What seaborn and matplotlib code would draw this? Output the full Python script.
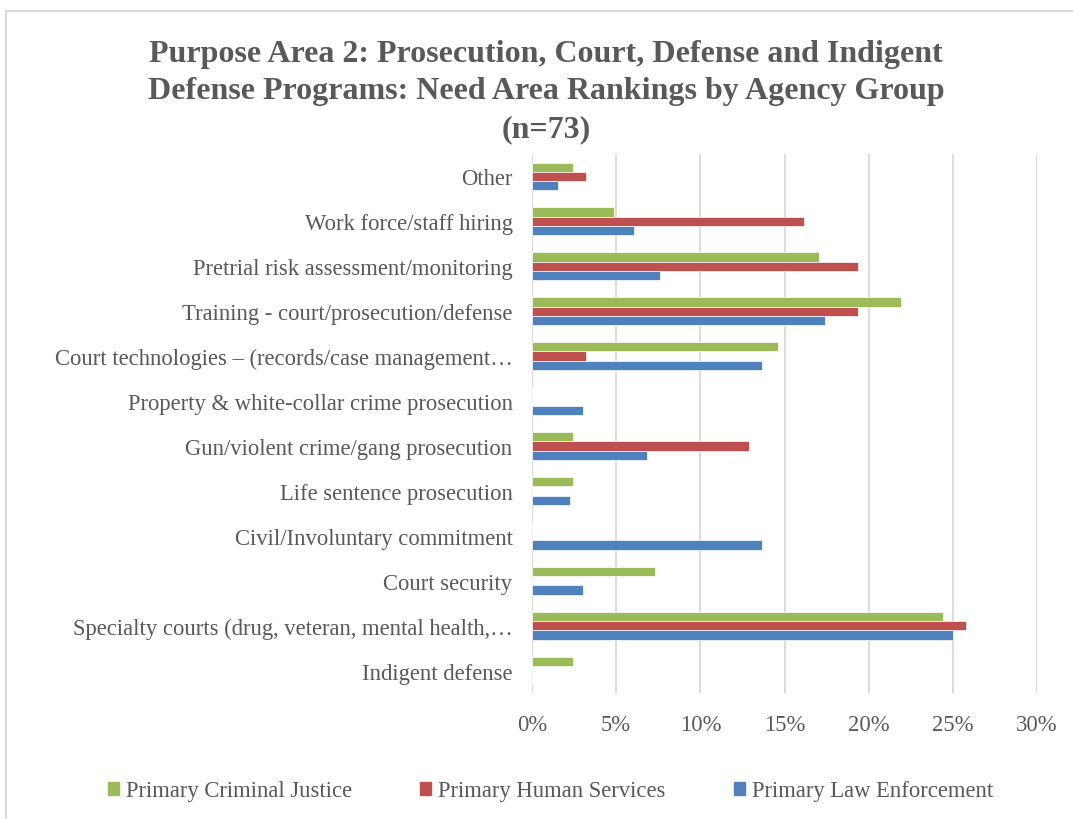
import numpy as np
import pandas as pd
import matplotlib
matplotlib.use('Agg')
import matplotlib.pyplot as plt
import seaborn as sns
from matplotlib.ticker import PercentFormatter
from matplotlib.patches import Rectangle

# ── datos ────────────────────────────────────────────────────────────────────
categorias = [
    'Other',
    'Work force/staff hiring',
    'Pretrial risk assessment/monitoring',
    'Training - court/prosecution/defense',
    'Court technologies – (records/case management…',
    'Property & white-collar crime prosecution',
    'Gun/violent crime/gang prosecution',
    'Life sentence prosecution',
    'Civil/Involuntary commitment',
    'Court security',
    'Specialty courts (drug, veteran, mental health,…',
    'Indigent defense',
]
grupos = ['Primary Criminal Justice', 'Primary Human Services', 'Primary Law Enforcement']
criminal_justice = [2.44, 4.88, 17.07, 21.95, 14.63, 0.0, 2.44, 2.44, 0.0, 7.32, 24.39, 2.44]
human_services   = [3.23, 16.13, 19.35, 19.35, 3.23, 0.0, 12.90, 0.0, 0.0, 0.0, 25.81, 0.0]
law_enforcement  = [1.52, 6.06, 7.58, 17.42, 13.64, 3.03, 6.82, 2.27, 13.64, 3.03, 25.00, 0.0]

df = pd.DataFrame({
    'area': categorias * 3,
    'grupo': np.repeat(grupos, len(categorias)),
    'pct': criminal_justice + human_services + law_enforcement,
})

# ── estilo ───────────────────────────────────────────────────────────────────
VERDE = '#9BBB59'; ROJO = '#C0504D'; AZUL = '#4F81BD'
TEXTO = '#595959'; GRID = '#D9D9D9'
sns.set_style('white')
plt.rcParams['font.family'] = ['Liberation Serif', 'DejaVu Serif']

fig = plt.figure(figsize=(10.73, 8.2), dpi=100)
ax = fig.add_axes([532/1073, 1 - 694/820, 505/1073, 539/820])

sns.barplot(data=df, y='area', x='pct', hue='grupo', order=categorias,
            hue_order=grupos, palette=[VERDE, ROJO, AZUL], saturation=1,
            orient='h', width=0.62, edgecolor='white', linewidth=0.5, ax=ax)

ax.set_xlim(0, 30)
ax.set_xticks(np.arange(0, 31, 5))
ax.xaxis.set_major_formatter(PercentFormatter(decimals=0))
ax.grid(axis='x', color=GRID, lw=1.3)
ax.set_axisbelow(True)
for sp in ax.spines.values():
    sp.set_visible(False)
ax.set_xlabel(''); ax.set_ylabel('')
ax.tick_params(axis='both', length=0, colors=TEXTO)
ax.tick_params(axis='y', pad=14, labelsize=16.3)
ax.tick_params(axis='x', pad=15, labelsize=16.3)

ax.legend_.remove()
handles = [Rectangle((0, 0), 1, 1, color=c) for c in (VERDE, ROJO, AZUL)]
fig.legend(handles, grupos, loc='center', bbox_to_anchor=(0.513, 1 - 792/820), ncol=3,
           frameon=False, fontsize=16.3, labelcolor=TEXTO, handlelength=0.5,
           handleheight=0.55, handletextpad=0.3, columnspacing=3.0)

fig.text(0.509, 1 - 92/820,
         'Purpose Area 2: Prosecution, Court, Defense and Indigent\n'
         'Defense Programs: Need Area Rankings by Agency Group\n(n=73)',
         ha='center', va='center', fontsize=23, fontweight='bold', color=TEXTO,
         linespacing=1.4)

# marco del área del gráfico
fig.patches.append(Rectangle((6/1073, -0.05), 1.2, 1 - 12/820 + 0.05,
                             transform=fig.transFigure, fill=False,
                             edgecolor=GRID, lw=1.5))

fig.savefig('out.png', dpi=100, facecolor='white')
